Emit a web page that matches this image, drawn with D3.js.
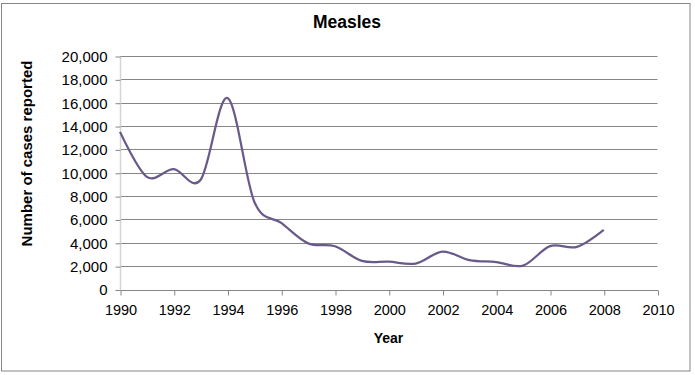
<!DOCTYPE html>
<html>
<head>
<meta charset="utf-8">
<script src="https://cdn.jsdelivr.net/npm/d3@7"></script>
<style>
  body { margin: 0; background: #fff; }
  text { font-family: "Liberation Sans", Arial, sans-serif; fill: #000; }
</style>
</head>
<body>
<svg id="chart"></svg>
<script>
const years = [1990, 1991, 1992, 1993, 1994, 1995, 1996, 1997, 1998, 1999,
  2000, 2001, 2002, 2003, 2004, 2005, 2006, 2007, 2008];
const cases = [13500, 9650, 10300, 9400, 16400, 7500, 5700, 3950, 3700, 2450,
  2380, 2220, 3250, 2520, 2350, 2050, 3720, 3650, 5100];
const xTicks = [1990, 1992, 1994, 1996, 1998, 2000, 2002, 2004, 2006, 2008, 2010];
const yTicks = [0, 2000, 4000, 6000, 8000, 10000, 12000, 14000, 16000, 18000, 20000];

const w = 695;
const h = 375;
const plotLeft = 120;
const plotRight = 657.5;
const plotTop = 56;
const plotBottom = 289.5;

const svg = d3.select("#chart")
  .attr("width", w)
  .attr("height", h);

// outer chart border
svg.append("rect")
  .attr("x", 1.5).attr("y", 3.5)
  .attr("width", 688.5).attr("height", 367.5)
  .attr("fill", "#fff")
  .attr("stroke", "#868686");

const xScale = d3.scaleLinear().domain([1990, 2010]).range([plotLeft, plotRight]);
const yScale = d3.scaleLinear().domain([0, 20000]).range([plotBottom, plotTop]);

// gridlines
svg.append("g")
  .selectAll("line")
  .data(yTicks.filter(d => d > 0))
  .enter()
  .append("line")
  .attr("x1", plotLeft).attr("x2", plotRight)
  .attr("y1", d => Math.round(yScale(d)) + 0.5)
  .attr("y2", d => Math.round(yScale(d)) + 0.5)
  .attr("stroke", "#868686");

// y axis
const yAxis = d3.axisLeft(yScale)
  .tickValues(yTicks)
  .tickSize(5)
  .tickPadding(8)
  .tickFormat(d3.format(","));
const gy = svg.append("g")
  .attr("transform", "translate(" + (plotLeft + 0.5) + ",0.5)")
  .call(yAxis);
gy.select(".domain").attr("stroke", "#d4d4d4").attr("stroke-width", 1.5)
  .attr("d", "M0," + plotTop + "V" + plotBottom);
gy.selectAll(".tick line").attr("stroke", "#868686");
gy.selectAll(".tick text").style("font-size", "15px").attr("fill", "#000")
  .attr("font-family", "Liberation Sans, Arial, sans-serif");

// x axis
const xAxis = d3.axisBottom(xScale)
  .tickValues(xTicks)
  .tickSize(5)
  .tickPadding(9)
  .tickFormat(d3.format("d"));
const gx = svg.append("g")
  .attr("transform", "translate(0.5," + (Math.round(plotBottom) + 0.5) + ")")
  .call(xAxis);
gx.select(".domain").attr("stroke", "#868686").attr("d", "M" + plotLeft + ",0H" + plotRight);
gx.selectAll(".tick line").attr("stroke", "#868686");
gx.selectAll(".tick text").style("font-size", "14.5px").attr("fill", "#000")
  .attr("font-family", "Liberation Sans, Arial, sans-serif");

// series line
const line = d3.line()
  .x((d, i) => xScale(years[i]))
  .y(d => yScale(d))
  .curve(d3.curveCardinal.tension(0));

svg.append("path")
  .datum(cases)
  .attr("d", line)
  .attr("fill", "none")
  .attr("stroke", "#6a5a8c")
  .attr("stroke-width", 2.25);

// titles
svg.append("text")
  .attr("x", 347).attr("y", 28)
  .attr("text-anchor", "middle")
  .style("font-size", "17.5px").style("font-weight", "bold")
  .text("Measles");

svg.append("text")
  .attr("x", 388.5).attr("y", 342.5)
  .attr("text-anchor", "middle")
  .style("font-size", "14px").style("font-weight", "bold")
  .text("Year");

svg.append("text")
  .attr("transform", "translate(32,153.5) rotate(-90)")
  .attr("text-anchor", "middle")
  .style("font-size", "15px").style("font-weight", "bold")
  .text("Number of cases reported");
</script>
</body>
</html>
